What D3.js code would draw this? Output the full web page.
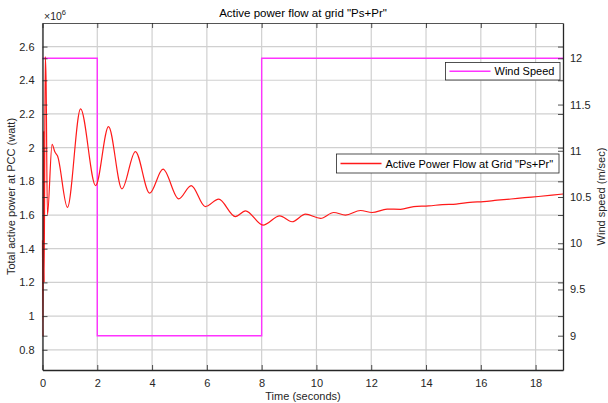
<!DOCTYPE html>
<html>
<head>
<meta charset="utf-8">
<script src="https://cdn.jsdelivr.net/npm/d3@7"></script>
<style>
  html, body { margin: 0; padding: 0; background: #fff; }
  svg { display: block; font-family: "Liberation Sans", Arial, Helvetica, sans-serif; }
</style>
</head>
<body>
<svg id="chart" width="608" height="403"></svg>
<script>
// ---- Data ----
const timeS = [0, 0.02, 0.04, 0.06, 0.10, 0.13, 0.18, 0.35, 0.45, 0.55, 0.91, 1.39, 1.94, 2.41, 2.90, 3.39, 3.91, 4.40, 4.97, 5.43, 5.94, 6.43, 7.04, 7.41, 8.05, 8.66, 9.11, 9.60, 10.15, 10.63, 11.06, 11.61, 12.03, 12.58, 13.07, 13.55, 14.10, 14.60, 15.10, 15.60, 16.10, 16.60, 17.10, 17.60, 18.10, 18.60, 19.00];
const powerMW = [1.45, 0.88, 2.10, 1.20, 2.54, 2.40, 1.60, 2.02, 1.975, 1.95, 1.645, 2.23, 1.775, 2.125, 1.755, 1.977, 1.73, 1.872, 1.696, 1.775, 1.65, 1.694, 1.591, 1.625, 1.54, 1.595, 1.56, 1.605, 1.58, 1.615, 1.60, 1.627, 1.615, 1.635, 1.634, 1.65, 1.654, 1.662, 1.665, 1.675, 1.68, 1.688, 1.695, 1.703, 1.71, 1.718, 1.725];
const windTime = [0, 2, 2, 8, 8, 19];
const windSpeed = [12, 12, 9, 9, 12, 12];
const xTicks = [0, 2, 4, 6, 8, 10, 12, 14, 16, 18];
const leftTicks = [0.8, 1.0, 1.2, 1.4, 1.6, 1.8, 2.0, 2.2, 2.4, 2.6];
const rightTicks = [9, 9.5, 10, 10.5, 11, 11.5, 12];
const titleText = 'Active power flow at grid "Ps+Pr"';
const xLabel = 'Time (seconds)';
const yLabelLeft = 'Total active power at PCC (watt)';
const yLabelRight = 'Wind speed (m/sec)';
const legendPower = 'Active Power Flow at Grid "Ps+Pr"';
const legendWind = 'Wind Speed';

// ---- Layout ----
const L = 42.5, R = 563, T = 23, B = 370;
const axisColor = '#262626';
const gridColor = '#d0d0d0';
const svg = d3.select('#chart');

const x = d3.scaleLinear().domain([0, 19]).range([L, R]);
const yL = d3.scaleLinear().domain([0.68, 2.74]).range([B, T]);
const yR = d3.scaleLinear().domain([8.629, 12.382]).range([B, T]);

// grid
const grid = svg.append('g');
grid.selectAll('.vg').data(xTicks).join('line')
  .attr('x1', d => x(d)).attr('x2', d => x(d)).attr('y1', T).attr('y2', B)
  .attr('stroke', gridColor).attr('stroke-width', 1.2);
grid.selectAll('.hg').data(leftTicks).join('line')
  .attr('x1', L).attr('x2', R).attr('y1', d => yL(d)).attr('y2', d => yL(d))
  .attr('stroke', gridColor).attr('stroke-width', 1.2);

// wind speed
const windPts = windTime.map((t, i) => [t, windSpeed[i]]);
svg.append('path')
  .datum(windPts)
  .attr('d', d3.line().x(d => x(d[0])).y(d => yR(d[1])))
  .attr('fill', 'none').attr('stroke', '#ff33ff').attr('stroke-width', 1.4);

// power
const powPts = timeS.map((t, i) => [t, powerMW[i]]);
svg.append('path')
  .datum(powPts)
  .attr('d', d3.line().x(d => x(d[0])).y(d => yL(d[1])).curve(d3.curveMonotoneX))
  .attr('fill', 'none').attr('stroke', '#ff1a1a').attr('stroke-width', 1.2);

// axes
const tl = 5;
const axL = svg.append('g').attr('transform', `translate(${L},0)`)
  .call(d3.axisLeft(yL).tickValues(leftTicks).tickSizeInner(-tl).tickSizeOuter(0).tickPadding(8).tickFormat(d3.format('~g')));
const axR = svg.append('g').attr('transform', `translate(${R},0)`)
  .call(d3.axisRight(yR).tickValues(rightTicks).tickSizeInner(-tl).tickSizeOuter(0).tickPadding(7).tickFormat(d3.format('~g')));
const axB = svg.append('g').attr('transform', `translate(0,${B})`)
  .call(d3.axisBottom(x).tickValues(xTicks).tickSizeInner(-tl).tickSizeOuter(0).tickPadding(9));
// mirrored ticks
const axL2 = svg.append('g').attr('transform', `translate(${R},0)`)
  .call(d3.axisRight(yL).tickValues(leftTicks).tickSize(tl).tickSizeOuter(0).tickFormat(''));
axL2.selectAll('.tick line').attr('x2', -tl);
const axR2 = svg.append('g').attr('transform', `translate(${L},0)`)
  .call(d3.axisLeft(yR).tickValues(rightTicks).tickSize(tl).tickSizeOuter(0).tickFormat(''));
axR2.selectAll('.tick line').attr('x2', tl);
const axT = svg.append('g').attr('transform', `translate(0,${T})`)
  .call(d3.axisTop(x).tickValues(xTicks).tickSizeOuter(0).tickFormat(''));
axT.selectAll('.tick line').attr('y2', tl);

[axL, axR, axB, axL2, axR2, axT].forEach(a => {
  a.selectAll('.domain').attr('stroke', axisColor).attr('stroke-width', 1.3);
  a.selectAll('.tick line').attr('stroke', axisColor).attr('stroke-width', 0.8);
  a.selectAll('text').attr('fill', axisColor).style('font-size', '11px')
    .style('font-family', '"Liberation Sans", Arial, sans-serif');
});
axT.select('.domain').attr('stroke', '#555').attr('stroke-width', 1);
axL2.select('.domain').remove();
axR2.select('.domain').remove();

// multiplier
const mult = svg.append('text').attr('x', 44).attr('y', 20).attr('fill', axisColor)
  .style('font-size', '10.5px');
mult.append('tspan').text('\u00d710');
mult.append('tspan').attr('dy', -5).style('font-size', '7.5px').text('6');

// title & labels
svg.append('text').attr('x', 303).attr('y', 17).attr('text-anchor', 'middle')
  .attr('fill', '#000').style('font-size', '11.5px').text(titleText);
svg.append('text').attr('x', 303).attr('y', 400).attr('text-anchor', 'middle')
  .attr('fill', axisColor).style('font-size', '11px').text(xLabel);
svg.append('text').attr('transform', `translate(15,${(T + B) / 2}) rotate(-90)`)
  .attr('text-anchor', 'middle').attr('fill', axisColor).style('font-size', '11px').text(yLabelLeft);
svg.append('text').attr('transform', `translate(605,${(T + B) / 2}) rotate(-90)`)
  .attr('text-anchor', 'middle').attr('fill', axisColor).style('font-size', '11px').text(yLabelRight);

// legends
function legend(x0, y0, w, h, color, label) {
  const g = svg.append('g');
  g.append('rect').attr('x', x0).attr('y', y0).attr('width', w).attr('height', h)
    .attr('fill', '#fff').attr('stroke', axisColor).attr('stroke-width', 0.8);
  g.append('line').attr('x1', x0 + 4).attr('x2', x0 + 45).attr('y1', y0 + h / 2).attr('y2', y0 + h / 2)
    .attr('stroke', color).attr('stroke-width', 1.3);
  g.append('text').attr('x', x0 + 49).attr('y', y0 + h / 2 + 4).attr('fill', '#000')
    .style('font-size', '11px').text(label);
}
legend(445.5, 62.5, 114.5, 17.5, '#ff33ff', legendWind);
legend(336.5, 154, 222.5, 19, '#ff1a1a', legendPower);
</script>
</body>
</html>
